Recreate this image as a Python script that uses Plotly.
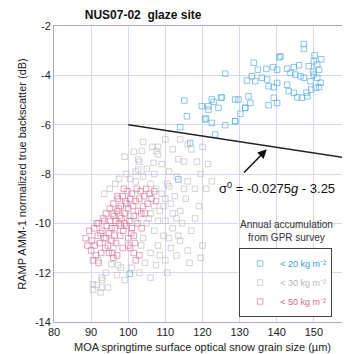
import plotly.graph_objects as go

# ---- data ----
blue_x = [147.3, 147.3, 150.2, 140.7, 133.8, 134.9, 137.2, 139.0, 140.1, 142.8, 144.6, 146.0, 148.6, 150.0,
          150.9, 151.4, 132.0, 133.3, 134.2, 136.0, 137.4, 137.8, 139.2, 140.1, 142.8, 143.2, 144.6, 145.5,
          146.8, 148.2, 149.3, 150.5, 151.4, 149.1, 147.3, 146.4, 145.0, 143.7, 150.0, 150.9, 129.7, 128.8,
          132.4, 131.5, 132.9, 130.2, 128.8, 137.8, 140.1, 139.2, 126.1, 125.2, 122.5, 119.8, 121.6, 124.3,
          120.7, 122.5, 126.1, 128.8, 131.5, 141.0, 115.1, 115.8, 121.6, 123.0, 125.0, 120.9, 114.0, 123.4,
          116.7, 113.5, 100.4, 152.0, 149.8, 151.8, 148.0]
blue_y = [-2.73, -2.93, -3.19, -3.27, -3.49, -3.77, -3.74, -3.67, -3.77, -3.73, -3.67, -3.59, -3.63, -3.43,
          -3.56, -3.77, -4.21, -4.04, -4.24, -4.10, -4.17, -4.44, -4.48, -4.31, -4.38, -4.64, -4.71, -4.89,
          -4.91, -4.85, -4.58, -4.51, -4.48, -4.24, -4.10, -4.04, -3.97, -3.90, -3.97, -4.10, -4.98, -4.98,
          -4.85, -5.32, -5.12, -5.56, -5.86, -5.21, -5.12, -4.91, -3.93, -4.89, -4.98, -5.25, -5.39, -5.32,
          -5.79, -5.93, -6.02, -5.86, -5.32, -3.23, -5.02, -5.66, -5.25, -5.08, -4.91, -5.75, -6.10, -6.40,
          -6.74, -8.22, -12.04, -3.35, -3.85, -4.30, -4.70]

grey_x = [104.0, 106.5, 110.0, 112.0, 108.0, 113.5, 109.0, 115.0, 111.0, 107.0, 113.0, 116.0, 118.0, 117.0,
          105.0, 103.0, 110.5, 119.0, 115.5, 118.0, 117.0, 114.0, 116.0, 113.0, 110.0, 112.0, 108.0, 106.0,
          108.5, 110.0, 111.5, 109.0, 106.0, 107.0, 105.0, 112.5, 114.0, 113.0, 115.0, 111.0, 104.0, 106.0,
          104.0, 102.0, 100.5, 102.0, 99.5, 96.5, 107.5, 110.0, 112.0, 114.5, 109.5, 104.5, 107.5, 101.0,
          98.0, 97.0, 94.0, 93.0, 91.5, 92.5, 90.5, 94.5, 96.0, 99.0, 103.0, 106.0, 110.5, 119.5, 121.0,
          120.0, 116.5, 108.5, 103.5, 105.5, 108.0, 111.0, 102.0, 100.5, 107.0, 109.5, 113.5, 111.5, 95.0,
          97.5, 93.5, 101.5, 99.0, 118.5, 116.0, 108.0, 114.0, 120.0, 121.5, 122.5, 119.5, 103.6, 102.7,
          107.6, 106.8, 102.7, 91.9, 92.8, 90.5, 92.8, 95.5, 97.3]
grey_y = [-6.7, -6.9, -6.6, -7.0, -7.2, -7.4, -7.6, -7.5, -7.9, -8.0, -8.1, -8.3, -8.6, -7.0,
          -7.8, -7.5, -8.4, -9.3, -9.0, -9.8, -10.3, -10.7, -11.1, -11.3, -11.5, -10.2, -10.9, -11.2,
          -9.5, -9.9, -9.2, -8.8, -9.6, -10.3, -10.0, -8.9, -9.5, -9.8, -8.6, -10.6, -10.6, -8.4,
          -8.1, -8.3, -8.2, -7.9, -8.0, -8.4, -8.6, -9.0, -9.6, -10.0, -10.5, -11.6, -11.7, -11.8,
          -11.8, -12.1, -12.0, -12.3, -12.5, -12.8, -12.7, -12.6, -11.0, -12.3, -12.0, -12.2, -12.0, -8.0, -8.6,
          -10.9, -11.6, -11.3, -10.9, -9.8, -9.9, -8.5, -9.9, -9.7, -9.3, -9.3, -10.5, -11.0, -8.6,
          -8.2, -8.8, -7.1, -7.3, -7.5, -6.8, -6.9, -6.6, -6.9, -7.6, -8.3, -11.4, -7.07, -7.41,
          -7.07, -7.55, -7.82, -11.5, -12.2, -12.47, -12.6, -11.66, -11.7]

pink_x = [88.5, 89.0, 89.5, 90.0, 90.2, 90.8, 91.0, 91.3, 91.8, 92.0, 92.3, 92.7, 93.0, 93.2, 93.5, 93.8,
          94.0, 94.2, 94.5, 94.8, 95.0, 95.2, 95.5, 95.7, 96.0, 96.1, 96.4, 96.7, 97.0, 97.2, 97.5, 97.8,
          98.0, 98.2, 98.5, 98.7, 99.0, 99.2, 99.5, 99.8, 100.0, 100.3, 100.5, 100.8, 101.0, 101.3, 101.5,
          101.8, 102.0, 102.3, 102.6, 103.0, 103.3, 103.6, 104.0, 104.3, 104.8, 105.2, 105.8, 106.3, 107.0,
          107.5, 101.5, 102.0, 100.5, 103.0, 97.0, 98.5, 96.5, 95.5, 94.0, 92.5, 91.5, 97.5, 99.0, 100.0,
          98.0, 96.3, 93.5, 102.5, 101.0, 104.5, 99.5, 97.8, 95.8, 94.8, 90.5, 92.0, 96.0, 100.0, 101.5,
          103.5, 98.8, 97.0]
pink_y = [-10.6, -10.9, -10.3, -11.1, -10.7, -10.2, -10.9, -11.3, -10.5, -10.0, -10.8, -11.2, -10.3, -9.8,
          -10.6, -11.0, -9.6, -10.1, -10.9, -10.4, -9.4, -9.9, -10.7, -11.2, -9.2, -9.7, -10.2, -10.8, -9.5,
          -9.0, -10.0, -10.5, -9.3, -9.8, -8.9, -10.3, -9.6, -9.1, -10.1, -8.7, -9.4, -9.9, -9.0, -10.4,
          -8.8, -9.3, -9.7, -10.8, -9.1, -8.6, -9.5, -9.0, -8.7, -10.2, -9.3, -8.9, -8.6, -9.2, -8.8, -9.0,
          -8.7, -9.1, -11.2, -11.5, -11.0, -11.3, -11.3, -11.0, -9.9, -10.2, -10.6, -10.4, -10.0, -9.4,
          -10.0, -10.6, -10.1, -10.5, -9.9, -10.0, -10.2, -9.6, -9.2, -9.7, -9.6, -11.2, -11.5, -11.6, -11.4,
          -10.9, -10.5, -9.6, -8.6, -8.9]

fit_x = [100, 160]
fit_y = [-6.0, -7.38]

x_ticks = [80, 90, 100, 110, 120, 130, 140, 150, 160]
y_ticks = [-14, -12, -10, -8, -6, -4, -2]

FONT = "Liberation Sans, Arial, sans-serif"
blue_c = "rgba(80,170,225,0.85)"
grey_c = "rgba(185,185,185,0.8)"
pink_c = "rgba(215,115,150,0.8)"

fig = go.Figure()

def add(xs, ys, color, name):
    fig.add_trace(go.Scatter(
        x=xs, y=ys, mode="markers", name=name,
        marker=dict(symbol="square-open", size=5.5, color=color, line=dict(width=0.8)),
    ))

add(blue_x, blue_y, blue_c, "<span style='color:#3aa0d8'>&lt; 20 kg m⁻²</span>")
add(grey_x, grey_y, grey_c, "<span style='color:#b8b8b8'>&lt; 30 kg m⁻²</span>")
add(pink_x, pink_y, pink_c, "<span style='color:#d06a8e'>&lt; 50 kg m⁻²</span>")

fig.add_trace(go.Scatter(x=fit_x, y=fit_y, mode="lines", line=dict(color="#222222", width=1.5),
                         showlegend=False))

fig.add_annotation(x=140, y=-8.56, text="σ<sup>0</sup> = -0.0275<i>g</i> - 3.25", showarrow=False,
                   font=dict(size=13, color="#111111", family=FONT))
fig.add_annotation(x=137.3, y=-7.0, ax=130.8, ay=-8.0, axref="x", ayref="y", xref="x", yref="y",
                   text="", showarrow=True, arrowhead=2, arrowsize=1.2, arrowwidth=1.5, arrowcolor="#111111")
fig.add_annotation(x=142.7, y=-10.3, text="Annual accumulation<br>from GPR survey", showarrow=False,
                   font=dict(size=10, color="#333333", family=FONT))

axis_common = dict(showgrid=True, gridcolor="#d6d6ee", gridwidth=1, showline=True, linecolor="#a8a8d8",
                   linewidth=1, mirror=True, zeroline=False, ticks="", tickfont=dict(size=11, color="#222222", family=FONT))

fig.update_layout(
    width=350, height=354,
    margin=dict(l=46, r=7, t=18, b=40),
    paper_bgcolor="white", plot_bgcolor="white",
    font=dict(family=FONT),
    title=dict(text="<b>NUS07-02  glaze site</b>", x=0.386, xanchor="center", y=0.98, yanchor="middle",
               font=dict(size=12, color="#111111", family=FONT)),
    xaxis=dict(range=[80, 160], tickvals=x_ticks, ticktext=[str(v) for v in x_ticks],
               title=dict(text="MOA springtime surface optical snow grain size (µm)",
                          font=dict(size=11, color="#222222", family=FONT), standoff=6),
               **axis_common),
    yaxis=dict(range=[-14, -2], tickvals=y_ticks, ticktext=[str(v) for v in y_ticks],
               title=dict(text="RAMP AMM-1 normalized true backscatter (dB)",
                          font=dict(size=11, color="#222222", family=FONT), standoff=6),
               **axis_common),
    legend=dict(x=0.78, y=0.25, xanchor="center", yanchor="top", bgcolor="white",
                bordercolor="#444444", borderwidth=1, font=dict(size=9, family=FONT),
                itemwidth=30, traceorder="normal", tracegroupgap=0),
)

fig.write_html("out.html")
